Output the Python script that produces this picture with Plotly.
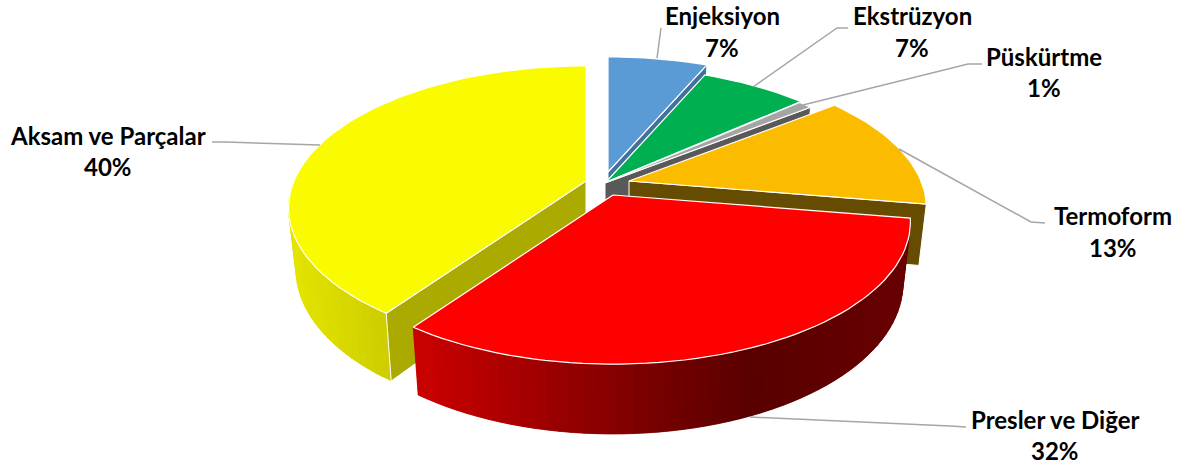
import math
import plotly.graph_objects as go

# Data
labels = ["Enjeksiyon", "Ekstrüzyon", "Püskürtme", "Termoform", "Presler ve Diğer", "Aksam ve Parçalar"]
shares = [6.51, 7.0, 0.9, 13.2, 32.2, 40.19]

# Style: one entry per slice
top_colors = ["#5b9bd5", "#00b050", "#a5a5a5", "#fbbc00", "#ff0000", "#fbfb00"]
face_colors = ["#41719c", "#007a38", "#595959", "#664c00", "#990000", "#aaaa00"]
apex_x = [608, 606, 605, 629, 613, 586]
apex_y = [172, 182, 183, 181, 195, 181]
draw_order = [0, 1, 2, 3, 5, 4]
# wall gradient stops (x pixel, r, g, b)
wall_stops = {
    4: [(419, 200, 0, 0), (640, 122, 0, 0), (750, 88, 0, 0), (905, 104, 0, 0)],
    5: [(290, 228, 228, 0), (393, 202, 202, 0)],
}
label_pos = [(722, 15, 47), (912, 15, 47), (1044, 56, 87), (1113, 215, 247), (1055, 419, 450), (108, 135, 166)]
leaders = [
    [(657, 58), (661, 28)],
    [(753, 87), (837, 28), (848, 28)],
    [(803, 105), (968, 64), (982, 64)],
    [(899, 149), (1031, 222), (1045, 223)],
    [(750, 417), (950, 426), (966, 427)],
    [(320, 145), (226, 142), (212, 142)],
]

# Projection constants
A, B, K, DEPTH, SHRINK = 292, 137, 0.19, 60, 0.975


def rim(cx, cy, deg):
    t = math.radians(deg)
    w = 1 + K * math.cos(t)
    return cx + A * math.sin(t) / w, cy - B * math.cos(t) / w


def drop(cx, cy, deg):
    x, y = rim(cx, cy, deg)
    w = 1 + K * math.cos(math.radians(deg))
    return cx + SHRINK * (x - cx), cy + SHRINK * (y - cy) + DEPTH / w


def poly(fig, pts, fill, line, width):
    xs = [p[0] for p in pts] + [pts[0][0]]
    ys = [p[1] for p in pts] + [pts[0][1]]
    fig.add_trace(go.Scatter(x=xs, y=ys, mode="lines", fill="toself", fillcolor=fill,
                             line=dict(color=line, width=width), hoverinfo="skip", showlegend=False))


def gradient(stops, x):
    if x <= stops[0][0]:
        return stops[0][1:]
    for s0, s1 in zip(stops, stops[1:]):
        if x <= s1[0]:
            f = (x - s0[0]) / (s1[0] - s0[0])
            return tuple(s0[i] + f * (s1[i] - s0[i]) for i in (1, 2, 3))
    return stops[-1][1:]


fig = go.Figure()
edges = [0]
for v in shares:
    edges.append(edges[-1] + v * 3.6 * 100 / sum(shares))

for i in draw_order:
    cx, cy = apex_x[i], apex_y[i]
    a0, a1 = edges[i], edges[i + 1]
    n = max(4, int((a1 - a0) / 2))
    steps = [a0 + (a1 - a0) * j / n for j in range(n + 1)]
    apex_low = (cx, cy + DEPTH)
    # outer wall, as narrow overlapping strips
    if i in wall_stops:
        for j in range(n):
            s0, s1 = steps[j], steps[min(j + 2, n)]
            if 0.5 * (s0 + s1) > 272 and i == 5:
                continue
            p0, p1 = rim(cx, cy, s0), rim(cx, cy, s1)
            c = gradient(wall_stops[i], 0.5 * (p0[0] + p1[0]))
            col = "rgb(%d,%d,%d)" % tuple(round(v) for v in c)
            poly(fig, [p0, p1, drop(cx, cy, s1), drop(cx, cy, s0)], col, col, 0.5)
    # cut face toward the viewer
    if i in (0, 1, 2, 3):
        poly(fig, [(cx, cy), rim(cx, cy, a1), drop(cx, cy, a1), apex_low], face_colors[i], "#ffffff", 1)
    if i == 5:
        poly(fig, [(cx, cy), rim(cx, cy, a0), drop(cx, cy, a0), apex_low], face_colors[i], "#ffffff", 1)
    # top
    poly(fig, [(cx, cy)] + [rim(cx, cy, s) for s in steps], top_colors[i], "#ffffff", 1.2)

shapes = []
for pts in leaders:
    path = "M" + " L".join(f"{x},{y}" for x, y in pts)
    shapes.append(dict(type="path", path=path, xref="x", yref="y", line=dict(color="#a6a6a6", width=1.5)))

font = dict(family="Lato", size=24, color="#000000")
notes = []
for name, v, (x, y0, y1) in zip(labels, shares, label_pos):
    notes.append(dict(x=x, y=y0, text=f"<b>{name}</b>", showarrow=False, font=font, xanchor="center", yanchor="middle"))
    notes.append(dict(x=x, y=y1, text=f"<b>{round(v)}%</b>", showarrow=False, font=font, xanchor="center", yanchor="middle"))

fig.update_layout(
    width=1187, height=465, margin=dict(l=0, r=0, t=0, b=0),
    paper_bgcolor="#ffffff", plot_bgcolor="#ffffff", showlegend=False,
    xaxis=dict(range=[0, 1187], visible=False, fixedrange=True),
    yaxis=dict(range=[465, 0], visible=False, fixedrange=True),
    shapes=shapes, annotations=notes,
)
fig.write_html("out.html", config={"displayModeBar": False},
               post_script="document.body.style.margin='0';document.body.style.overflow='hidden';")
